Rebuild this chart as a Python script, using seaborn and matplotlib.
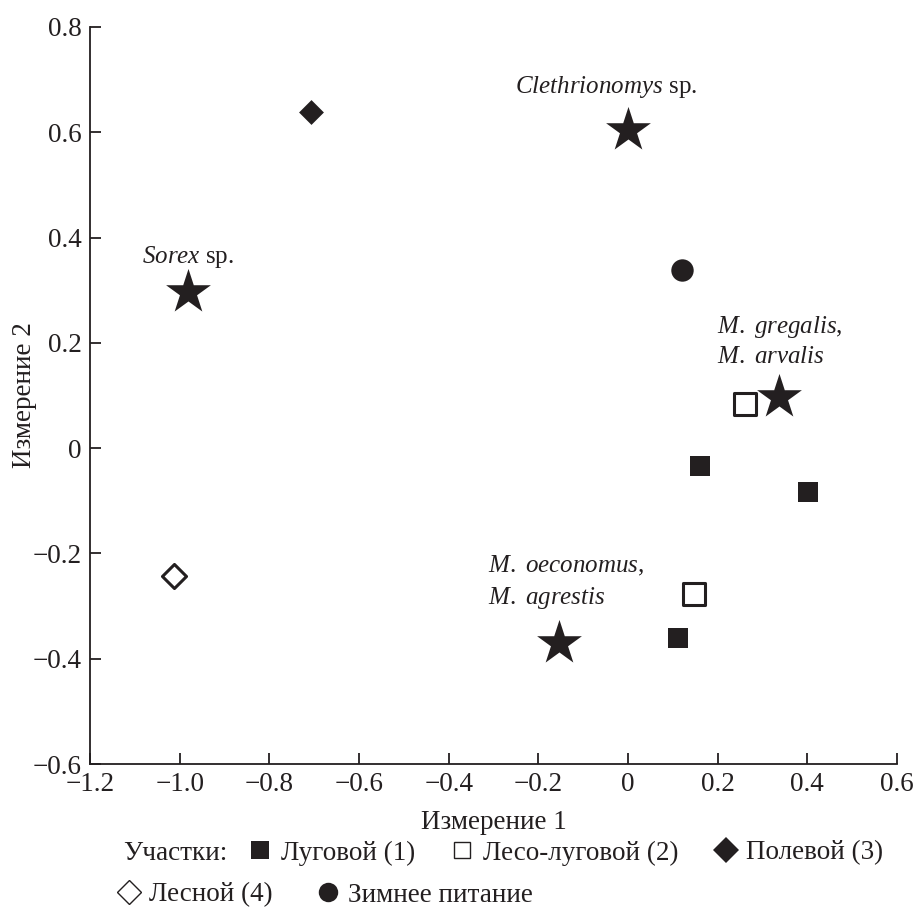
import numpy as np
import pandas as pd
import seaborn as sns
import matplotlib.pyplot as plt
from matplotlib.lines import Line2D
from matplotlib.ticker import FuncFormatter

# data
groups = ["Луговой (1)", "Луговой (1)", "Луговой (1)",
          "Лесо-луговой (2)", "Лесо-луговой (2)",
          "Полевой (3)", "Лесной (4)", "Зимнее питание"]
dim1 = [0.161, 0.402, 0.111, 0.261, 0.147, -0.708, -1.013, 0.120]
dim2 = [-0.034, -0.084, -0.360, 0.083, -0.277, 0.638, -0.243, 0.338]

species = [r"$\mathit{Clethrionomys}$ sp.",
           r"$\mathit{Sorex}$ sp.",
           r"$\mathit{M.\ gregalis}$," + "\n" + r"$\mathit{M.\ arvalis}$",
           r"$\mathit{M.\ oeconomus}$," + "\n" + r"$\mathit{M.\ agrestis}$"]
sp_x = [0.000, -0.982, 0.337, -0.153]
sp_y = [0.604, 0.296, 0.097, -0.371]

x_ticks = [-1.2, -1.0, -0.8, -0.6, -0.4, -0.2, 0, 0.2, 0.4, 0.6]
y_ticks = [-0.6, -0.4, -0.2, 0, 0.2, 0.4, 0.6, 0.8]

sns.set_style("ticks")
plt.rcParams['font.family'] = ['Liberation Serif', 'DejaVu Serif']
plt.rcParams['mathtext.fontset'] = 'custom'
plt.rcParams['mathtext.rm'] = 'Liberation Serif'
plt.rcParams['mathtext.it'] = 'Liberation Serif:italic'

ink = "#231f20"
txt = "#231f20"
fs = 19.5
df = pd.DataFrame({"g": groups, "x": dim1, "y": dim2})
sp = pd.DataFrame({"name": species, "x": sp_x, "y": sp_y})

# marker look per group
look = {
    "Луговой (1)": dict(marker="s", s=225, color=ink, edgecolor=ink, linewidth=0),
    "Лесо-луговой (2)": dict(marker="s", s=230, color="white", edgecolor=ink, linewidth=2.2),
    "Полевой (3)": dict(marker="D", s=160, color=ink, edgecolor=ink, linewidth=0),
    "Лесной (4)": dict(marker="D", s=150, color="white", edgecolor=ink, linewidth=2.2),
    "Зимнее питание": dict(marker="o", s=260, color=ink, edgecolor=ink, linewidth=0),
}

fig = plt.figure(figsize=(9.16, 9.09), dpi=100)
ax = fig.add_axes([0.0983, 0.1595, 0.8810, 0.8108])

for g, kw in look.items():
    sub = df[df["g"] == g]
    sns.scatterplot(data=sub, x="x", y="y", ax=ax, legend=False, zorder=3, **kw)

sns.scatterplot(data=sp, x="x", y="y", ax=ax, marker="*", s=1150, color=ink,
                edgecolor=ink, linewidth=0, legend=False, zorder=3)

# species captions
offs = [(-22, 43, "center"), (0, 35, "center"),
        (-62, 56, "left"), (-71, 61, "left")]
for (name, x, y), (dx, dy, ha) in zip(sp[["name", "x", "y"]].values, offs):
    ax.annotate(name, (x, y), xytext=(dx, dy), textcoords="offset pixels",
                ha=ha, va="center", fontsize=18, color=txt, linespacing=1.35)

ax.set_xlim(-1.2, 0.6)
ax.set_ylim(-0.6, 0.8)
ax.set_xticks(x_ticks)
ax.set_yticks(y_ticks)
fmt = FuncFormatter(lambda v, p: "0" if abs(v) < 1e-9 else f"{v:.1f}".replace("-", "\u2212"))
ax.xaxis.set_major_formatter(fmt)
ax.yaxis.set_major_formatter(fmt)
ax.tick_params(direction="in", length=8, width=1.3, labelsize=fs, colors=txt, pad=6)
sns.despine(ax=ax)
for s in ["left", "bottom"]:
    ax.spines[s].set_linewidth(1.3)
    ax.spines[s].set_color(txt)
ax.set_xlabel("Измерение 1", fontsize=fs, color=txt, labelpad=9)
ax.set_ylabel("Измерение 2", fontsize=fs, color=txt, labelpad=-3)

# legend below
def h(kw, ms):
    return Line2D([], [], linestyle="none", marker=kw["marker"], markersize=ms,
                  markerfacecolor=kw["color"], markeredgecolor=ink,
                  markeredgewidth=1.0 if kw["color"] == "white" else 0)

names = list(look.keys())
fig.text(0.134, 0.0616, "Участки:", fontsize=fs, va="center", color=txt)
row1 = [h(look[n], m) for n, m in zip(names[:3], [13, 12, 13.5])]
row2 = [h(look[n], m) for n, m in zip(names[3:], [12.5, 14])]
leg1 = fig.legend(row1, names[:3], loc="center left", bbox_to_anchor=(0.271, 0.0616),
                  ncol=3, frameon=False, fontsize=fs, handlelength=0.9,
                  handletextpad=0.3, columnspacing=1.3, borderpad=0, borderaxespad=0)
leg2 = fig.legend(row2, names[3:], loc="center left", bbox_to_anchor=(0.127, 0.0154),
                  ncol=2, frameon=False, fontsize=fs, handlelength=0.9,
                  handletextpad=0.3, columnspacing=1.6, borderpad=0, borderaxespad=0)
for t in leg1.get_texts() + leg2.get_texts():
    t.set_color(txt)

fig.savefig("out.png", dpi=100)
